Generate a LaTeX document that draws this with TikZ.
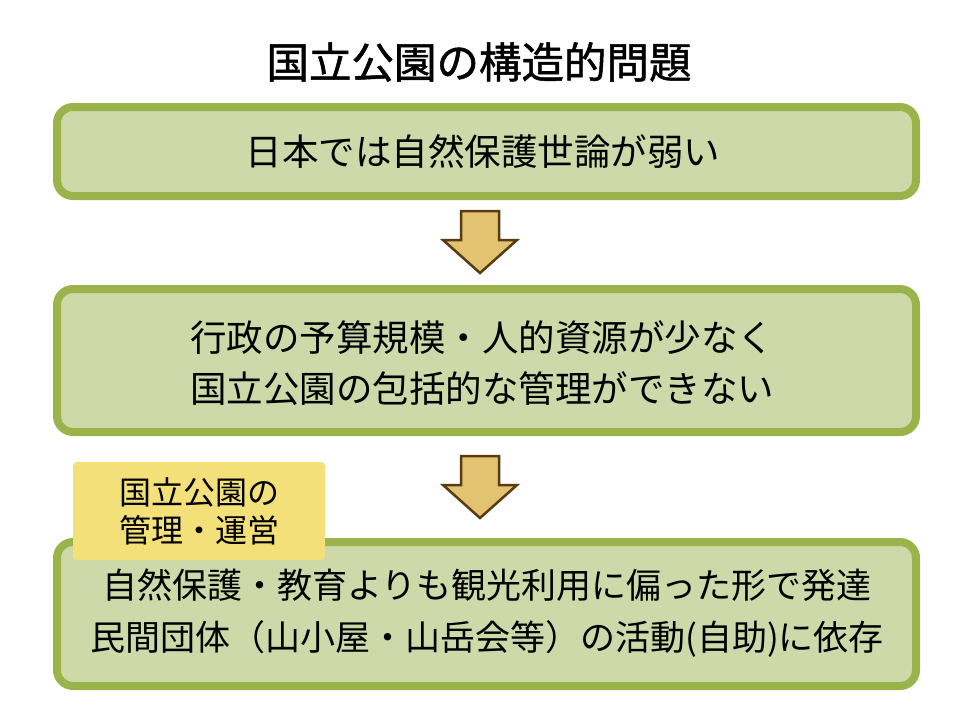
\documentclass[tikz,border=0pt]{standalone}
\usepackage{fontspec}
\setmainfont{Noto Sans CJK JP}
\newfontfamily\titlefont[FakeBold=1.2]{Noto Sans CJK JP}
\begin{document}
\begin{tikzpicture}[x=1pt,y=-1pt,
  mainbox/.style={draw=boxline,fill=boxfill,line width=8pt,rounded corners=16pt},
  downarrow/.style={draw=arrline,fill=arrfill,line width=2.5pt,line join=miter},
  txt/.style={font=\fontsize{36.5}{51}\selectfont,align=center,text=black},
]
\definecolor{boxline}{HTML}{9BB34B}
\definecolor{boxfill}{HTML}{CDD9A8}
\definecolor{arrline}{HTML}{5A3A10}
\definecolor{arrfill}{HTML}{E2C370}
\definecolor{labfill}{HTML}{F4E078}
\useasboundingbox (0,0) rectangle (960,720);
\fill[white] (0,0) rectangle (960,720);

\node[font=\titlefont\fontsize{42.5}{48}\selectfont] (title) at (479,62) {国立公園の構造的問題};

\draw[mainbox] (57,107) rectangle (916,196);
\node[txt] (t1) at (483,152) {日本では自然保護世論が弱い};

\draw[mainbox] (57,289) rectangle (916,432);
\node[txt] (t2) at (482,363) {行政の予算規模・人的資源が少なく\\国立公園の包括的な管理ができない};

\draw[mainbox] (57,542) rectangle (916,686);
\node[txt,font=\fontsize{35}{52}\selectfont] (t3) at (487,613) {自然保護・教育よりも観光利用に偏った形で発達\\民間団体（山小屋・山岳会等）の活動(自助)に依存};

% arrows
\draw[downarrow] (461,211) -- (499,211) -- (499,240) -- (517,240) -- (480,273) -- (443,240) -- (461,240) -- cycle;
\draw[downarrow] (461,456) -- (499,456) -- (499,485) -- (517,485) -- (480,518) -- (443,485) -- (461,485) -- cycle;

\fill[labfill,rounded corners=4pt] (73,462) rectangle (325,560);
\node[font=\fontsize{32}{38}\selectfont,align=center] (lab) at (199,511) {国立公園の\\管理・運営};
\end{tikzpicture}
\end{document}
